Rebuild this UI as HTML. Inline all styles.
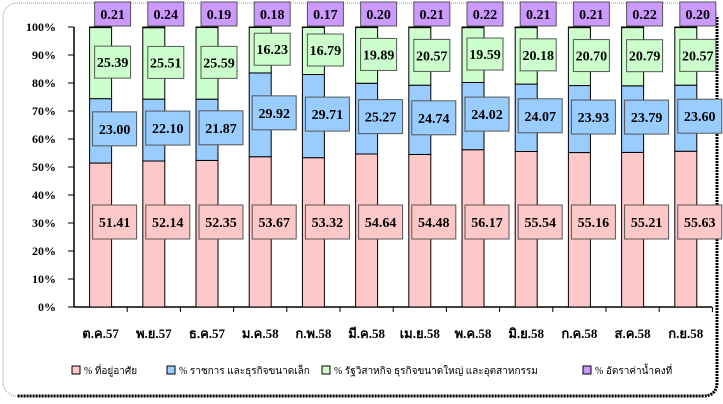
<!DOCTYPE html>
<html><head><meta charset="utf-8">
<style>
html,body{margin:0;padding:0;background:#fff;width:723px;height:404px;overflow:hidden}
svg text{font-family:"Liberation Serif",serif;font-weight:bold}
</style></head><body>
<svg id="s" width="723" height="404" xmlns="http://www.w3.org/2000/svg">
<rect x="3" y="3" width="714" height="393" rx="14" fill="#fff" stroke="#999" stroke-dasharray="1,1"/>
<path d="M717 17 L717 382 Q717 396 703 396 L17 396" fill="none" stroke="#000" stroke-width="3" stroke-dasharray="2,1"/>
<g id="g"></g>
</svg>
<script>
var pink=[51.41,52.14,52.35,53.67,53.32,54.64,54.48,56.17,55.54,55.16,55.21,55.63];
var blue=[23.00,22.10,21.87,29.92,29.71,25.27,24.74,24.02,24.07,23.93,23.79,23.60];
var green=[25.39,25.51,25.59,16.23,16.79,19.89,20.57,19.59,20.18,20.70,20.79,20.57];
var pur=[0.21,0.24,0.19,0.18,0.17,0.20,0.21,0.22,0.21,0.21,0.22,0.20];
var labs=["ต.ค.57","พ.ย.57","ธ.ค.57","ม.ค.58","ก.พ.58","มี.ค.58","เม.ย.58","พ.ค.58","มิ.ย.58","ก.ค.58","ส.ค.58","ก.ย.58"];
var h='',X0=74,Y0=307,S=2.8,W=53.2;
function y(p){return Y0-p*S}
for(var k=0;k<=10;k++){var yy=y(k*10);h+='<line x1="68" y1="'+yy+'" x2="74" y2="'+yy+'" stroke="#000"/><text x="56" y="'+(yy+4)+'" font-size="12" text-anchor="end">'+(k*10)+'%</text>';}
h+='<line x1="74" y1="27" x2="74" y2="307" stroke="#000" stroke-width="1.5"/><line x1="74" y1="307" x2="712" y2="307" stroke="#000" stroke-width="1.5"/>';
function box(cx,cy,w,hh,f,t){return '<rect x="'+(cx-w/2)+'" y="'+(cy-hh/2)+'" width="'+w+'" height="'+hh+'" fill="'+f+'" stroke="#555"/><text x="'+cx+'" y="'+(cy+5)+'" font-size="14" text-anchor="middle">'+t+'</text>';}
for(var i=0;i<12;i++){
 var c=X0+W*(i+0.5),bx=c-11;
 h+='<line x1="'+(X0+W*(i+1))+'" y1="307" x2="'+(X0+W*(i+1))+'" y2="312" stroke="#000"/>';
 var a=0,segs=[[pink[i],'#ffc8c8'],[blue[i],'#9cf'],[green[i],'#cfc'],[pur[i],'#c9f']];
 var mids=[];
 for(var j=0;j<4;j++){var v=segs[j][0];h+='<rect x="'+bx+'" y="'+y(a+v)+'" width="22" height="'+(v*S)+'" fill="'+segs[j][1]+'" stroke="#000"/>';mids.push(a+v/2);a+=v;}
 h+=box(c+14,222,44,34,'#ffc8c8',pink[i].toFixed(2));
 h+=box(c+14,y(mids[1])-2,44,34,'#9cf',blue[i].toFixed(2));
 h+=box(c+12,y(mids[2])-1,36,32,'#cfc',green[i].toFixed(2));
 h+=box(c+12,14,36,24,'#c9f',pur[i].toFixed(2));
 h+='<text x="'+c+'" y="338" font-size="13" text-anchor="middle" style="font-family:\'Liberation Serif\',\'Noto Serif CJK SC\',serif">'+labs[i]+'</text>';
}
var lg=[[72,'#ffc8c8','% ที่อยู่อาศัย'],[167,'#9cf','% ราชการ และธุรกิจขนาดเล็ก'],[322,'#cfc','% รัฐวิสาหกิจ ธุรกิจขนาดใหญ่ และอุตสาหกรรม'],[583,'#c9f','% อัตราค่าน้ำคงที่']];
lg.forEach(function(l){h+='<rect x="'+l[0]+'" y="366" width="8" height="8" fill="'+l[1]+'" stroke="#000"/><text x="'+(l[0]+12)+'" y="374" font-size="10" style="font-weight:normal">'+l[2]+'</text>';});
document.getElementById('g').innerHTML=h;
</script>
</body></html>
